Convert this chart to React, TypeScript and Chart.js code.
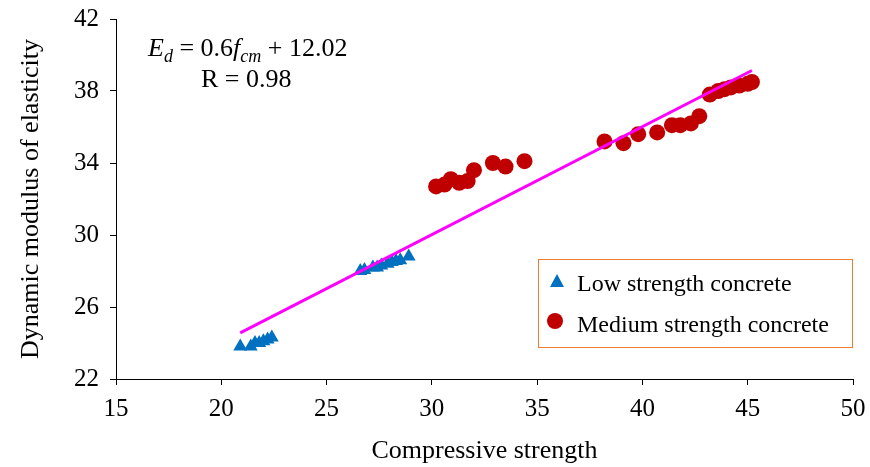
import React, { useEffect, useRef } from "react";
import { Chart, registerables } from "chart.js";

Chart.register(...registerables);

const lowX = [20.9, 21.4, 21.6, 21.8, 22.0, 22.2, 22.4, 26.6, 26.8, 27.2, 27.4, 27.6, 27.9, 28.1, 28.3, 28.5, 28.9];
const lowY = [23.8, 23.8, 24.0, 24.0, 24.1, 24.2, 24.3, 28.0, 28.05, 28.2, 28.2, 28.3, 28.4, 28.5, 28.55, 28.6, 28.8];

const medX = [30.2, 30.6, 30.9, 31.3, 31.7, 32.0, 32.9, 33.5, 34.4, 38.2, 39.1, 39.8, 40.7, 41.4, 41.8, 42.3, 42.7, 43.2, 43.6, 43.9, 44.2, 44.6, 45.0, 45.2];
const medY = [32.7, 32.8, 33.1, 32.9, 33.0, 33.6, 34.0, 33.8, 34.1, 35.2, 35.1, 35.6, 35.7, 36.1, 36.1, 36.2, 36.6, 37.8, 38.0, 38.1, 38.2, 38.3, 38.4, 38.5];

const trendX = [20.9, 45.2];
const trendY = [24.56, 39.14];

const xTicks = [15, 20, 25, 30, 35, 40, 45, 50];
const yTicks = [22, 26, 30, 34, 38, 42];

const seriesNames = ["Low strength concrete", "Medium strength concrete"];
const xTitle = "Compressive strength";
const yTitle = "Dynamic modulus of elasticity";

const FONT = "'Liberation Serif', 'Times New Roman', serif";
const BLUE = "#0070C0";
const RED = "#C00000";

const overlayPlugin = {
  id: "overlay",
  afterDraw(chart: any) {
    const ctx = chart.ctx as CanvasRenderingContext2D;
    ctx.save();
    // Equation
    ctx.fillStyle = "#000";
    ctx.textBaseline = "alphabetic";
    let x = 148;
    const by = 56;
    const parts: [string, string, number, number][] = [
      ["E", "italic", 26, 0],
      ["d", "italic", 18, 6],
      [" = 0.6", "normal", 26, 0],
      ["f", "italic", 26, 0],
      ["cm", "italic", 18, 6],
      [" + 12.02", "normal", 26, 0],
    ];
    for (const [t, st, sz, dy] of parts) {
      ctx.font = `${st} ${sz}px ${FONT}`;
      ctx.fillText(t, x, by + dy);
      x += ctx.measureText(t).width;
    }
    ctx.font = `26px ${FONT}`;
    ctx.fillText("R = 0.98", 201, 87);

    // Legend
    ctx.strokeStyle = "#ED7D31";
    ctx.lineWidth = 1;
    ctx.strokeRect(538.5, 259.5, 314, 88);
    ctx.fillStyle = BLUE;
    ctx.beginPath();
    ctx.moveTo(557, 274);
    ctx.lineTo(564, 287);
    ctx.lineTo(550, 287);
    ctx.closePath();
    ctx.fill();
    ctx.fillStyle = RED;
    ctx.beginPath();
    ctx.arc(555, 321, 8, 0, Math.PI * 2);
    ctx.fill();
    ctx.fillStyle = "#000";
    ctx.font = `24px ${FONT}`;
    ctx.textBaseline = "middle";
    ctx.fillText(seriesNames[0], 577, 285);
    ctx.fillText(seriesNames[1], 577, 326);
    ctx.restore();
  },
};

export default function App() {
  const ref = useRef<HTMLCanvasElement>(null);
  useEffect(() => {
    const chart = new Chart(ref.current as HTMLCanvasElement, {
      type: "scatter",
      data: {
        datasets: [
          {
            label: "trend",
            data: trendX.map((x, i) => ({ x, y: trendY[i] })),
            showLine: true,
            borderColor: "#FF00FF",
            borderWidth: 3,
            pointRadius: 0,
            order: 0,
          },
          {
            label: seriesNames[0],
            data: lowX.map((x, i) => ({ x, y: lowY[i] })),
            pointStyle: "triangle",
            pointRadius: 8,
            backgroundColor: BLUE,
            borderColor: BLUE,
            borderWidth: 0,
            order: 2,
          },
          {
            label: seriesNames[1],
            data: medX.map((x, i) => ({ x, y: medY[i] })),
            pointStyle: "circle",
            pointRadius: 8,
            backgroundColor: RED,
            borderColor: RED,
            borderWidth: 0,
            order: 1,
          },
        ],
      },
      options: {
        animation: false,
        responsive: false,
        maintainAspectRatio: false,
        layout: { padding: { top: 19, right: 17, left: 0, bottom: 0 } },
        plugins: { legend: { display: false }, tooltip: { enabled: false } },
        scales: {
          x: {
            type: "linear",
            min: 15,
            max: 50,
            afterBuildTicks: (s: any) => {
              s.ticks = xTicks.map((v) => ({ value: v }));
            },
            afterFit: (s: any) => {
              s.height = 88;
              s.paddingLeft = 0;
              s.paddingRight = 0;
            },
            grid: { drawOnChartArea: false, color: "#000", tickLength: 6, tickWidth: 1 },
            border: { color: "#000", width: 1 },
            ticks: { color: "#000", font: { family: FONT, size: 25 }, padding: 9, maxRotation: 0 },
            title: { display: true, text: xTitle, color: "#000", font: { family: FONT, size: 26 }, padding: { top: 0, bottom: 0 } },
          },
          y: {
            type: "linear",
            min: 22,
            max: 42,
            afterBuildTicks: (s: any) => {
              s.ticks = yTicks.map((v) => ({ value: v }));
            },
            afterFit: (s: any) => {
              s.width = 116;
              s.paddingTop = 0;
              s.paddingBottom = 0;
            },
            grid: { drawOnChartArea: false, color: "#000", tickLength: 6, tickWidth: 1 },
            border: { color: "#000", width: 1 },
            ticks: { color: "#000", font: { family: FONT, size: 25 }, padding: 11 },
            title: { display: true, text: yTitle, color: "#000", font: { family: FONT, size: 26 }, padding: { top: 16, bottom: 0 } },
          },
        },
      },
      plugins: [overlayPlugin],
    } as any);
    return () => chart.destroy();
  }, []);
  return (
    <div style={{ position: "fixed", left: 0, top: 0, width: 870, height: 467, background: "#fff" }}>
      <canvas ref={ref} width={870} height={467} style={{ width: 870, height: 467 }} />
    </div>
  );
}
